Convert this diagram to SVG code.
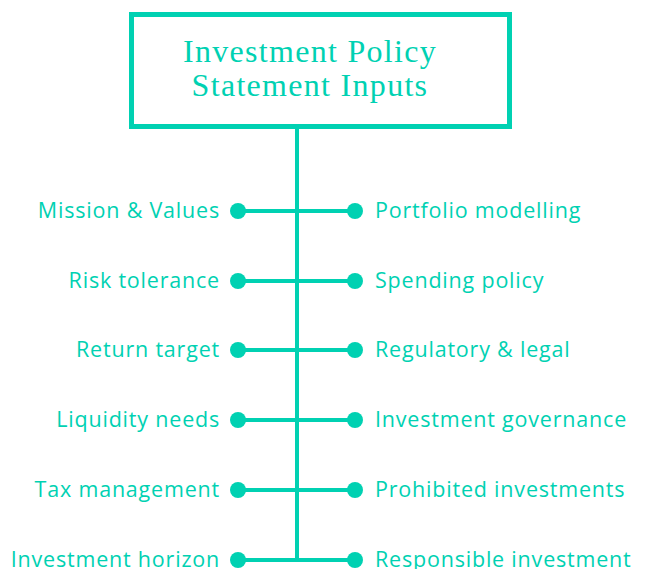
<svg xmlns="http://www.w3.org/2000/svg" width="646" height="569" viewBox="0 0 646 569">
  <style>
    .box { fill: #ffffff; stroke: #00d1b2; stroke-width: 5; }
    .title { font-family: "Liberation Serif", "Times New Roman", serif; font-size: 32px; letter-spacing: 1.3px; fill: #00d1b2; text-anchor: middle; }
    .wire { stroke: #00d1b2; stroke-width: 4; fill: none; }
    .dot { fill: #00d1b2; }
    .lbl { font-family: "Open Sans", "Liberation Sans", sans-serif; font-size: 21.5px; font-weight: 400; letter-spacing: 0.8px; fill: #00d1b2; }
    .l { text-anchor: end; }
    .r { text-anchor: start; }
  </style>
  <rect width="646" height="569" fill="#ffffff"/>

  <!-- connectors: trunk and one crossbar per row -->
  <g id="connectors">
    <line class="wire" x1="297" y1="128" x2="297" y2="560"/>
    <line class="wire" x1="238" y1="211" x2="355" y2="211"/>
    <line class="wire" x1="238" y1="281" x2="355" y2="281"/>
    <line class="wire" x1="238" y1="350" x2="355" y2="350"/>
    <line class="wire" x1="238" y1="420" x2="355" y2="420"/>
    <line class="wire" x1="238" y1="490" x2="355" y2="490"/>
    <line class="wire" x1="238" y1="560" x2="355" y2="560"/>
  </g>

  <!-- root node -->
  <g id="root">
    <rect class="box" x="131.5" y="14.5" width="378" height="112"/>
    <text class="title" x="310" y="62">Investment Policy</text>
    <text class="title" x="310" y="96">Statement Inputs</text>
  </g>

  <!-- left branch inputs -->
  <g id="mission-values"><circle class="dot" cx="238" cy="211" r="8"/><text class="lbl l" x="220" y="217.5">Mission &amp; Values</text></g>
  <g id="risk-tolerance"><circle class="dot" cx="238" cy="281" r="8"/><text class="lbl l" x="220" y="287.5">Risk tolerance</text></g>
  <g id="return-target"><circle class="dot" cx="238" cy="350" r="8"/><text class="lbl l" x="220" y="356.5">Return target</text></g>
  <g id="liquidity-needs"><circle class="dot" cx="238" cy="420" r="8"/><text class="lbl l" x="220" y="426.5">Liquidity needs</text></g>
  <g id="tax-management"><circle class="dot" cx="238" cy="490" r="8"/><text class="lbl l" x="220" y="496.5">Tax management</text></g>
  <g id="investment-horizon"><circle class="dot" cx="238" cy="560" r="8"/><text class="lbl l" x="220" y="566.5">Investment horizon</text></g>

  <!-- right branch inputs -->
  <g id="portfolio-modelling"><circle class="dot" cx="355" cy="211" r="8"/><text class="lbl r" x="375" y="217.5">Portfolio modelling</text></g>
  <g id="spending-policy"><circle class="dot" cx="355" cy="281" r="8"/><text class="lbl r" x="375" y="287.5">Spending policy</text></g>
  <g id="regulatory-legal"><circle class="dot" cx="355" cy="350" r="8"/><text class="lbl r" x="375" y="356.5">Regulatory &amp; legal</text></g>
  <g id="investment-governance"><circle class="dot" cx="355" cy="420" r="8"/><text class="lbl r" x="375" y="426.5">Investment governance</text></g>
  <g id="prohibited-investments"><circle class="dot" cx="355" cy="490" r="8"/><text class="lbl r" x="375" y="496.5">Prohibited investments</text></g>
  <g id="responsible-investment"><circle class="dot" cx="355" cy="560" r="8"/><text class="lbl r" x="375" y="566.5">Responsible investment</text></g>
</svg>
